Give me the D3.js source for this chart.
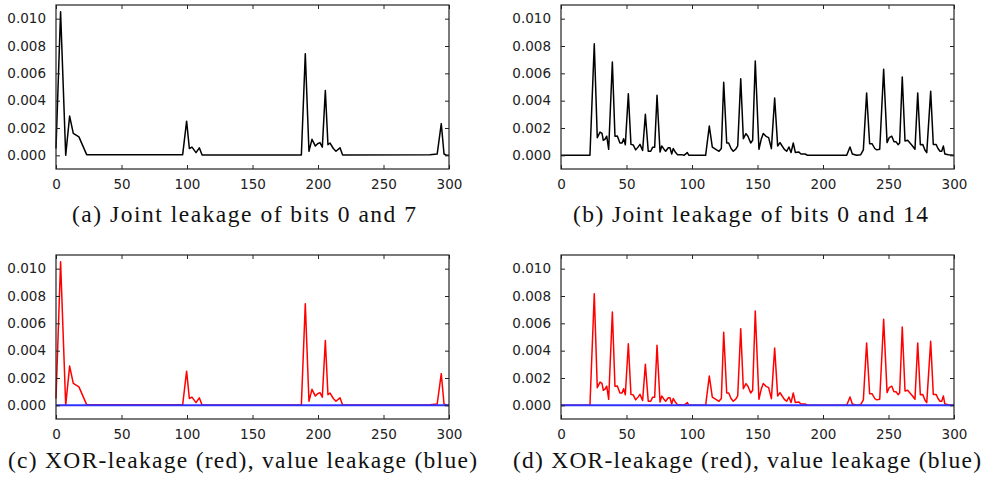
<!DOCTYPE html>
<html>
 <head>
  <title>Joint and XOR leakage</title>
  <style>
  body {
   margin: 0;
   background-color: white;
  }
  .tick text {
   font-family: "DejaVu Sans", sans-serif;
   font-size: 13.5px;
   fill: #222;
  }
  .caption {
   font-family: "Liberation Serif", serif;
   font-size: 23.5px;
   fill: #111;
  }
  </style>
 </head>

 <body>
  <script src="https://cdnjs.cloudflare.com/ajax/libs/d3/7.8.3/d3.min.js"></script>
  <script>
   // x ticks and y ticks shared by all four panels
   const xTicks = [0, 50, 100, 150, 200, 250, 300];
   const yTicks = [0, 0.002, 0.004, 0.006, 0.008, 0.010];

   // joint leakage of bits 0 and 7
   const joint07 = [[0,0.0005],[3.5,0.0105],[7.4,0],[10.4,0.00287],[13.2,0.0016],[17.5,0.00135],[23.4,0.00005],
    [96.7,0.00005],[99.7,0.0025],[101.8,0.0005],[103.8,0.0006],[106.9,0.0002],[109.4,0.00055],[111.5,0.00002],
    [187.3,0.00002],[190.3,0.00744],[193.1,0.0003],[195.4,0.00117],[198,0.00068],[199.7,0.00085],[201.5,0.00093],
    [203.3,0.0006],[205.6,0.00475],[207.6,0.00078],[209.2,0.0009],[211.7,0.0005],[213.7,0.0003],[216.8,0.00055],
    [218.8,0.00002],[285.5,0.00005],[291,0.0001],[294.1,0.00232],[296.2,0.0001],[298.2,0],[300,0]];

   // joint leakage of bits 0 and 14
   const joint014 = [[0,0],[22.1,0],[25.4,0.00817],[27.7,0.00129],[29.8,0.0017],[31.3,0.0016],[32.3,0.0011],
    [33.8,0.0012],[34.9,0.0014],[36.4,0.00044],[39.2,0.00683],[41.2,0.0014],[43,0.00141],[45,0.0009],[46.6,0.0009],
    [47.8,0.00122],[49.1,0.00078],[51.4,0.00451],[53.4,0.0008],[55.2,0.00075],[57,0.0004],[58.8,0.0006],[60.3,0.0008],
    [62.3,0.00035],[64.4,0.003],[66.6,0.0003],[68.5,0.0003],[70,0.0006],[71.5,0.0006],[73.3,0.00439],[75.6,0.00025],
    [76.9,0.00068],[78.6,0.00045],[79.9,0.0003],[81.9,0.00055],[83.2,0.00055],[84.5,0.0001],[85.7,0.0005],[87.5,0.0002],
    [89,0.00005],[92.1,0.00005],[93.9,0],[96.4,0.0002],[97.7,0],[110.4,0],[113.2,0.00214],[115.5,0.0006],[118.8,0.0004],
    [120.6,0.0003],[122.4,0.0005],[124.2,0.00534],[126.5,0.0009],[128,0.0009],[129.8,0.0005],[131.5,0.0003],
    [133.4,0.00045],[134.9,0.0007],[137.2,0.0056],[139.2,0.00122],[141.2,0.00159],[142.7,0.0014],[144.8,0.0009],
    [146.3,0.0011],[148.3,0.0069],[151.1,0.00044],[152.9,0.0012],[154.4,0.0016],[156.5,0.00139],[158.5,0.0013],
    [160.6,0.00049],[163.1,0.00419],[165.4,0.00068],[167.2,0.00093],[168.7,0.0007],[170.5,0.00044],[172.3,0.0003],
    [174,0.00061],[175.6,0.0002],[177.3,0.0009],[178.9,0.0002],[181.4,0.00025],[183.2,0.0001],[186.3,0.0001],
    [188.3,0],[218.1,0],[220.6,0.00061],[222.4,0.0001],[225.7,0],[228.8,0.00005],[230.8,0.0004],[233.3,0.00456],
    [235.6,0.00085],[237.4,0.00085],[239.5,0.0005],[241,0.0004],[243.3,0.00045],[246.3,0.00629],[248.9,0.00093],
    [250.6,0.0013],[252.5,0.0014],[254.2,0.001],[255.7,0.001],[257.3,0.00078],[258.5,0.0009],[260.5,0.00573],
    [262.6,0.00105],[264.6,0.0011],[266.4,0.0009],[268.2,0.0007],[270.2,0.00044],[272.3,0.00456],[274.3,0.00078],
    [276.1,0.0008],[277.9,0.00037],[279.2,0.0002],[282.2,0.00468],[284.2,0.0008],[286.3,0.0008],[287.8,0.0005],
    [289.3,0.0003],[290.6,0.0003],[291.9,0.00068],[293,0.0001],[295.7,0.00005],[299.5,0],[300,0]];

   // value leakage stays at zero
   const valueLeak = [[0,0],[300,0]];

   const captions = ["(a) Joint leakage of bits 0 and 7", "(b) Joint leakage of bits 0 and 14",
    "(c) XOR-leakage (red), value leakage (blue)", "(d) XOR-leakage (red), value leakage (blue)"];

   const w = 985;
   const h = 485;
   const pw = 393;
   const ph = 164;

   const panels = [
    {x: 56, y: 5, series: [{d: joint07, c: "#000", sw: 1.5}], cap: captions[0], cx: 72, cy: 222, cw: 344},
    {x: 561, y: 5, series: [{d: joint014, c: "#000", sw: 1.5}], cap: captions[1], cx: 573, cy: 222, cw: 355},
    {x: 56, y: 255, series: [{d: joint07, c: "#ff0000", sw: 1.5}, {d: valueLeak, c: "#3030ff", sw: 2}], cap: captions[2], cx: 8, cy: 468, cw: 469},
    {x: 561, y: 255, series: [{d: joint014, c: "#ff0000", sw: 1.5}, {d: valueLeak, c: "#3030ff", sw: 2}], cap: captions[3], cx: 513, cy: 468, cw: 468}
   ];

   const svg = d3.select("body")
                 .append("svg")
                 .attr("width", w)
                 .attr("height", h);

   const xScale = d3.scaleLinear().domain([0, 300]).range([0, pw]);
   const yScale = d3.scaleLinear().domain([-0.001, 0.011]).range([ph, 0]);

   panels.forEach(p => {
    const g = svg.append("g")
                 .attr("transform", "translate(" + p.x + "," + p.y + ")");

    const line = d3.line()
                   .x(d => xScale(d[0]))
                   .y(d => yScale(d[1]));

    p.series.forEach(s => {
     g.append("path")
      .datum(s.d)
      .attr("fill", "none")
      .attr("stroke", s.c)
      .attr("stroke-width", s.sw)
      .attr("stroke-linejoin", "round")
      .attr("d", line);
    });

    // axes with inward ticks on all four sides
    g.append("g")
     .attr("transform", "translate(0," + ph + ")")
     .call(d3.axisBottom(xScale).tickValues(xTicks).tickSize(-4).tickPadding(10).tickFormat(d3.format("d")));
    g.append("g")
     .call(d3.axisTop(xScale).tickValues(xTicks).tickSize(-4).tickFormat(""));
    g.append("g")
     .call(d3.axisLeft(yScale).tickValues(yTicks).tickSize(-4).tickPadding(10).tickFormat(d3.format(".3f")));
    g.append("g")
     .attr("transform", "translate(" + pw + ",0)")
     .call(d3.axisRight(yScale).tickValues(yTicks).tickSize(-4).tickFormat(""));

    g.selectAll(".domain").remove();
    g.selectAll(".tick line").attr("stroke", "#222");

    g.append("rect")
     .attr("width", pw)
     .attr("height", ph)
     .attr("fill", "none")
     .attr("stroke", "#222")
     .attr("stroke-width", 1.2);

    svg.append("text")
       .attr("class", "caption")
       .attr("x", p.cx)
       .attr("y", p.cy)
       .attr("textLength", p.cw)
       .attr("lengthAdjust", "spacing")
       .text(p.cap);
   });
  </script>
 </body>
</html>
